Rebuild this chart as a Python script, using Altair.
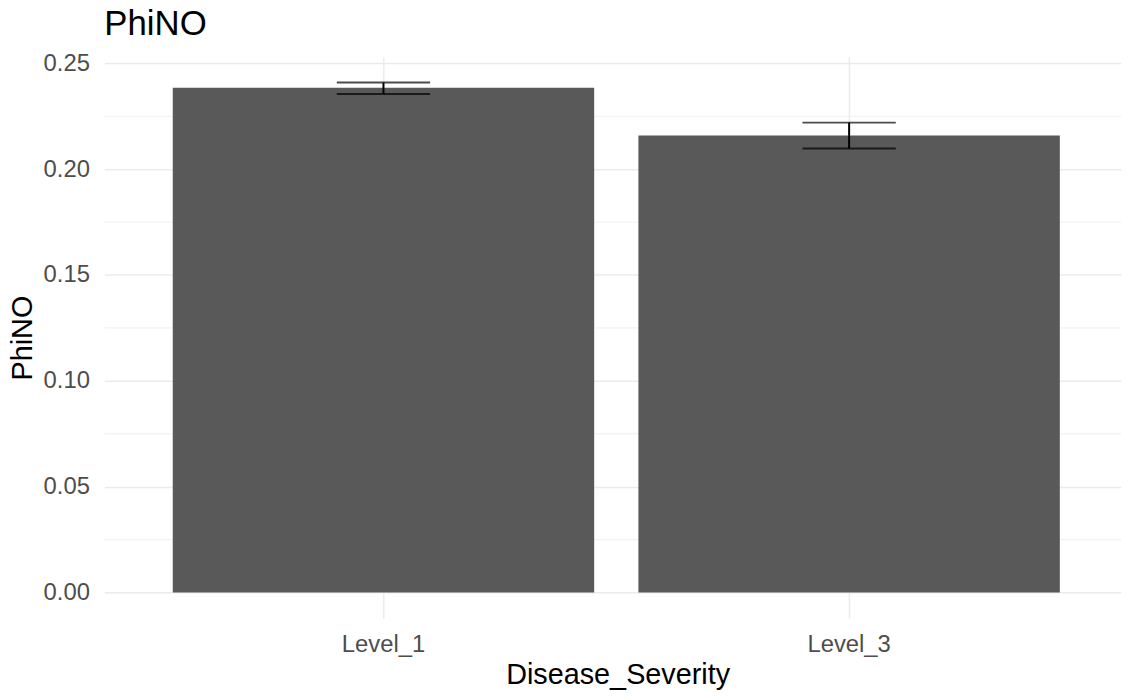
import altair as alt
import pandas as pd

categories = ["Level_1", "Level_3"]
means = [0.2385, 0.2159]
lower = [0.2355, 0.2098]
upper = [0.2409, 0.2220]
y_ticks = [0.0, 0.05, 0.10, 0.15, 0.20, 0.25]
y_minor = [0.025, 0.075, 0.125, 0.175, 0.225]
y_domain = [-0.01205, 0.25295]

df = pd.DataFrame({"Disease_Severity": categories, "PhiNO": means, "lo": lower, "hi": upper})
minor_df = pd.DataFrame({"v": y_minor})

W, H = 1024, 565
FONT = "Liberation Sans"
GRID = "#EBEBEB"

xscale = alt.Scale(domain=categories, paddingInner=0.095, paddingOuter=0.1392, align=0.528)
yscale = alt.Scale(domain=y_domain, nice=False, zero=False)

x_axis = alt.Axis(
    title="Disease_Severity", labelAngle=0, ticks=False, domain=False, grid=True,
    bandPosition=0.5, gridColor=GRID, gridWidth=1.5,
    labelFont=FONT, labelFontSize=24, labelColor="#4D4D4D", labelPadding=15,
    titleFont=FONT, titleFontSize=29, titleColor="#000000", titleFontWeight="normal",
    titleBaseline="alphabetic", titleY=66, titleX=517,
)
y_axis = alt.Axis(
    title="PhiNO", values=y_ticks, format=".2f", ticks=False, domain=False, grid=True,
    gridColor=GRID, gridWidth=1.5,
    labelFont=FONT, labelFontSize=24, labelColor="#4D4D4D", labelPadding=15,
    titleFont=FONT, titleFontSize=29, titleColor="#000000", titleFontWeight="normal",
    titleBaseline="alphabetic", titleX=-73, titleY=H / 2, titleAngle=270,
)

base = alt.Chart(df)

minor = alt.Chart(minor_df).mark_rule(color=GRID, strokeWidth=0.8).encode(
    y=alt.Y("v:Q", scale=yscale, axis=y_axis),
    x=alt.value(0), x2=alt.value(W),
)

bars = base.mark_bar(color="#595959").encode(
    x=alt.X("Disease_Severity:N", scale=xscale, sort=categories, axis=x_axis),
    y=alt.Y("PhiNO:Q", scale=yscale, axis=y_axis),
    y2=alt.datum(0),
)

err = base.mark_rule(color="black", strokeWidth=2).encode(
    x=alt.X("Disease_Severity:N", scale=xscale, sort=categories, axis=x_axis),
    y=alt.Y("lo:Q", scale=yscale, axis=y_axis),
    y2="hi:Q",
)
cap_lo = base.mark_tick(color="black", thickness=2, size=94).encode(
    x=alt.X("Disease_Severity:N", scale=xscale, sort=categories, axis=x_axis),
    y=alt.Y("lo:Q", scale=yscale, axis=y_axis),
)
cap_hi = base.mark_tick(color="black", thickness=2, size=94).encode(
    x=alt.X("Disease_Severity:N", scale=xscale, sort=categories, axis=x_axis),
    y=alt.Y("hi:Q", scale=yscale, axis=y_axis),
)

chart = alt.layer(minor, bars, err, cap_lo, cap_hi).properties(
    width=W, height=H,
    title=alt.TitleParams("PhiNO", anchor="start", frame="group", font=FONT, fontSize=35,
                          fontWeight="normal", color="#000000", offset=12, baseline="bottom",
                          dy=37),
    autosize=alt.AutoSizeParams(type="none"),
    padding={"left": 97, "top": 47, "right": 2, "bottom": 72},
    background="white",
).configure_view(stroke=None)

chart.save("out.html", embed_options={"renderer": "svg", "actions": False})
